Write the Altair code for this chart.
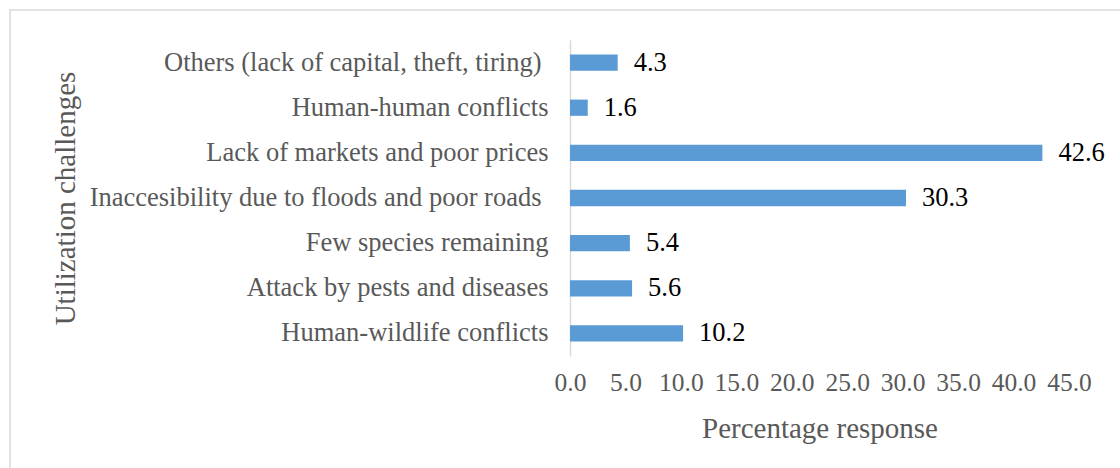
import altair as alt
import pandas as pd

categories = [
    "Others (lack of capital, theft, tiring) ",
    "Human-human conflicts",
    "Lack of markets and poor prices",
    "Inaccesibility due to floods and poor roads ",
    "Few species remaining",
    "Attack by pests and diseases",
    "Human-wildlife conflicts",
]
values = [4.3, 1.6, 42.6, 30.3, 5.4, 5.6, 10.2]
x_ticks = [0, 5, 10, 15, 20, 25, 30, 35, 40, 45]

df = pd.DataFrame({"challenge": categories, "pct": values})
FONT = "Liberation Serif"

base = alt.Chart(df)

y_enc = alt.Y(
    "challenge:N",
    sort=categories,
    scale=alt.Scale(paddingInner=0.64, paddingOuter=0.32),
    axis=alt.Axis(
        title="Utilization challenges",
        titleFont=FONT, titleFontSize=29, titleFontWeight="normal", titleColor="#595959",
        titleX=-505, titleY=158, titleAngle=270, titleBaseline="middle", titleAlign="center",
        labelFont=FONT, labelFontSize=26.5, labelColor="#595959",
        labelPadding={"condition": {"test": "datum.value != trim(datum.value)", "value": 29}, "value": 22},
        labelLimit=700,
        ticks=False, tickSize=0,
        domainColor="#d9d9d9", domainWidth=1.5,
        grid=False,
    ),
)

x_enc = alt.X(
    "pct:Q",
    scale=alt.Scale(domain=[0, 45], nice=False, zero=True),
    axis=alt.Axis(
        title="Percentage response",
        values=x_ticks, format=".1f",
        titleFont=FONT, titleFontSize=29, titleFontWeight="normal", titleColor="#595959",
        titleY=72, titleBaseline="middle",
        labelFont=FONT, labelFontSize=25.5, labelColor="#595959", labelPadding=14,
        labelOverlap=False, labelFlush=False,
        ticks=False, tickSize=0, domain=False, grid=False,
    ),
)

bars = base.mark_bar(color="#5b9bd5").encode(x=x_enc, y=y_enc)

labels = base.mark_text(
    align="left", baseline="middle", dx=16, font=FONT, fontSize=26.5, color="#000000"
).encode(
    x=alt.X("pct:Q"),
    y=alt.Y("challenge:N", sort=categories),
    text=alt.Text("pct:Q", format=".1f"),
)

border = alt.Chart(pd.DataFrame({"a": [0]})).mark_rect(
    fill=None, stroke="#d9d9d9", strokeWidth=1.5
).encode(
    x=alt.value(-560), x2=alt.value(560), y=alt.value(-30), y2=alt.value(460)
)

chart = alt.layer(border, bars, labels).properties(
    width=499, height=316,
    background="white",
    padding={"left": 570, "top": 40, "right": 51, "bottom": 112},
    autosize=alt.AutoSizeParams(type="none"),
).configure_view(stroke="transparent", strokeWidth=0)

chart.save("out.html", embed_options={"renderer": "svg", "actions": False})
